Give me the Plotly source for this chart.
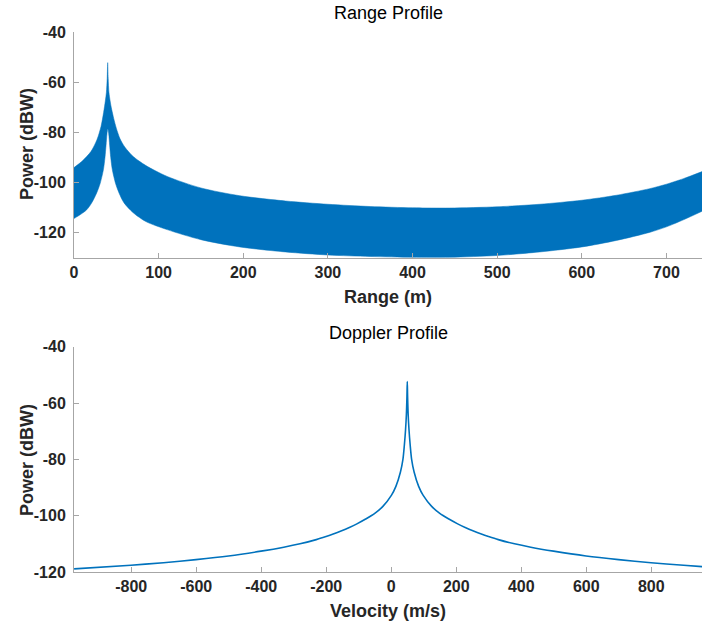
import plotly.graph_objects as go

# ---------------- data ----------------
# Range profile: the dense oscillation is drawn as the band between its envelopes
range_upper_x = [0, 10, 20, 27, 32, 35, 37, 38.3, 39.2, 39.8, 40.4, 41.3, 42.7, 44.5, 47, 50,
                 54.4, 60, 70, 85, 110, 150, 196, 250, 300, 350, 400, 444, 500, 550, 600, 641,
                 680, 700, 720, 742]
range_upper_db = [-94.0, -91.3, -87.6, -83.0, -77.5, -72.0, -67.5, -64.0, -58.5, -52.2, -58.5,
                  -64.0, -67.5, -70.8, -74.5, -78.3, -82.5, -85.8, -89.6, -93.2, -97.5, -102.1,
                  -105.2, -107.3, -108.6, -109.5, -110.0, -110.1, -109.6, -108.6, -107.0,
                  -105.0, -102.4, -100.6, -98.4, -95.6]
range_lower_x = [0, 8, 15, 21, 26.8, 31, 34.7, 36.6, 37.9, 39, 40, 41, 42.1, 43.4, 45.3, 49,
                 53.2, 59, 70, 85, 110, 150, 196, 250, 300, 350, 400, 444, 500, 550, 600, 641,
                 680, 700, 720, 742]
range_lower_db = [-114.3, -112.6, -110.8, -108.0, -104.1, -100.2, -94.9, -90.0, -85.0, -80.5,
                  -78.5, -80.5, -85.0, -90.0, -94.9, -100.2, -104.1, -108.0, -112.0, -115.5,
                  -118.7, -122.7, -125.6, -127.6, -128.8, -129.4, -129.7, -129.7, -129.0,
                  -127.6, -125.6, -123.0, -119.8, -117.6, -114.8, -111.4]

# Doppler profile
velocity = [-975.7, -800.7, -700.7, -600.7, -500.7, -400.7, -330.7, -280.7, -230.7, -200.7,
            -180.7, -130.7, -105.7, -78.7, -50.7, -25.7, 0.3, 14.3, 28.3, 35.8, 40.3, 44.0,
            46.6, 48.3, 49.3, 50.3, 52.0, 54.6, 58.3, 62.8, 70.3, 84.3, 98.3, 124.3, 149.3,
            177.3, 204.3, 229.3, 279.3, 299.3, 329.3, 379.3, 429.3, 499.3, 599.3, 699.3,
            799.3, 899.3, 956.3]
doppler_db = [-118.9, -117.6, -116.7, -115.6, -114.3, -112.6, -111.2, -110.0, -108.5, -107.4,
              -106.6, -104.3, -102.9, -101.2, -99.2, -96.7, -92.8, -89.6, -84.5, -80.1, -75.0,
              -69.5, -64.0, -57.7, -52.4, -57.7, -64.0, -69.5, -75.0, -80.1, -84.5, -89.6,
              -92.8, -96.7, -99.2, -101.2, -102.9, -104.3, -106.6, -107.4, -108.5, -110.0,
              -111.2, -112.6, -114.3, -115.6, -116.7, -117.6, -118.1]

range_ticks = [0, 100, 200, 300, 400, 500, 600, 700]
velocity_ticks = [-800, -600, -400, -200, 0, 200, 400, 600, 800]
power_ticks = [-120, -100, -80, -60, -40]

BLUE = "#0072BD"
AXIS = "#a6a6a6"
TXT = "#262626"
FONT = "Liberation Sans, Arial, sans-serif"


def labels(vals):
    return [str(v) for v in vals]  # plain hyphen-minus as in the reference


fig = go.Figure()

# lower envelope first, then the upper one filled down to it
fig.add_trace(go.Scatter(x=range_lower_x, y=range_lower_db, mode="lines",
                         line=dict(color=BLUE, width=0.5, shape="spline", smoothing=0.8),
                         xaxis="x", yaxis="y", showlegend=False, hoverinfo="skip"))
fig.add_trace(go.Scatter(x=range_upper_x, y=range_upper_db, mode="lines", fill="tonexty",
                         fillcolor=BLUE,
                         line=dict(color=BLUE, width=0.5, shape="spline", smoothing=0.8),
                         xaxis="x", yaxis="y", showlegend=False, hoverinfo="skip"))
fig.add_trace(go.Scatter(x=velocity, y=doppler_db, mode="lines",
                         line=dict(color=BLUE, width=1.6, shape="spline", smoothing=0.8),
                         xaxis="x2", yaxis="y2", showlegend=False))

W, H = 702, 629
ml, mr, mt, mb = 74, 0, 32, 57
ph = H - mt - mb
top_dom = [(H - mb - 258) / ph, 1.0]
bot_dom = [0.0, (H - mb - 346.7) / ph]

axis_common = dict(showline=True, linecolor=AXIS, linewidth=1, ticks="inside", ticklen=5,
                   tickcolor=AXIS, showgrid=False, zeroline=False, mirror=False,
                   tickfont=dict(family=FONT, size=16, color=TXT, weight="bold"))

fig.update_layout(
    width=W, height=H, margin=dict(l=ml, r=mr, t=mt, b=mb),
    paper_bgcolor="white", plot_bgcolor="white",
    xaxis=dict(domain=[0, 1], range=[0, 742], tickvals=range_ticks,
               ticktext=labels(range_ticks), anchor="y", **axis_common),
    yaxis=dict(domain=top_dom, range=[-130, -40], tickvals=power_ticks,
               ticktext=labels(power_ticks), anchor="x", ticklabelstandoff=4, **axis_common),
    xaxis2=dict(domain=[0, 1], range=[-976, 956], tickvals=velocity_ticks,
                ticktext=labels(velocity_ticks), anchor="y2", **axis_common),
    yaxis2=dict(domain=bot_dom, range=[-120, -40], tickvals=power_ticks,
                ticktext=labels(power_ticks), anchor="x2", ticklabelstandoff=4, **axis_common),
)


def px_to_paper(px, py):
    return (px - ml) / (W - ml - mr), (H - mb - py) / ph


for text, px, py, size, bold, angle in [
    ("Range Profile", 388, 13, 18, False, 0),
    ("Range (m)", 388, 297, 18, True, 0),
    ("Power (dBW)", 27, 144, 18, True, -90),
    ("Doppler Profile", 388, 333, 18, False, 0),
    ("Velocity (m/s)", 388, 611, 18, True, 0),
    ("Power (dBW)", 27, 460, 18, True, -90),
]:
    xx, yy = px_to_paper(px, py)
    fig.add_annotation(text=text, x=xx, y=yy, xref="paper", yref="paper", showarrow=False,
                       textangle=angle, xanchor="center", yanchor="middle",
                       font=dict(family=FONT, size=size, color=TXT if bold else "#000000",
                                 weight="bold" if bold else "normal"))

fig.write_html("out.html")
